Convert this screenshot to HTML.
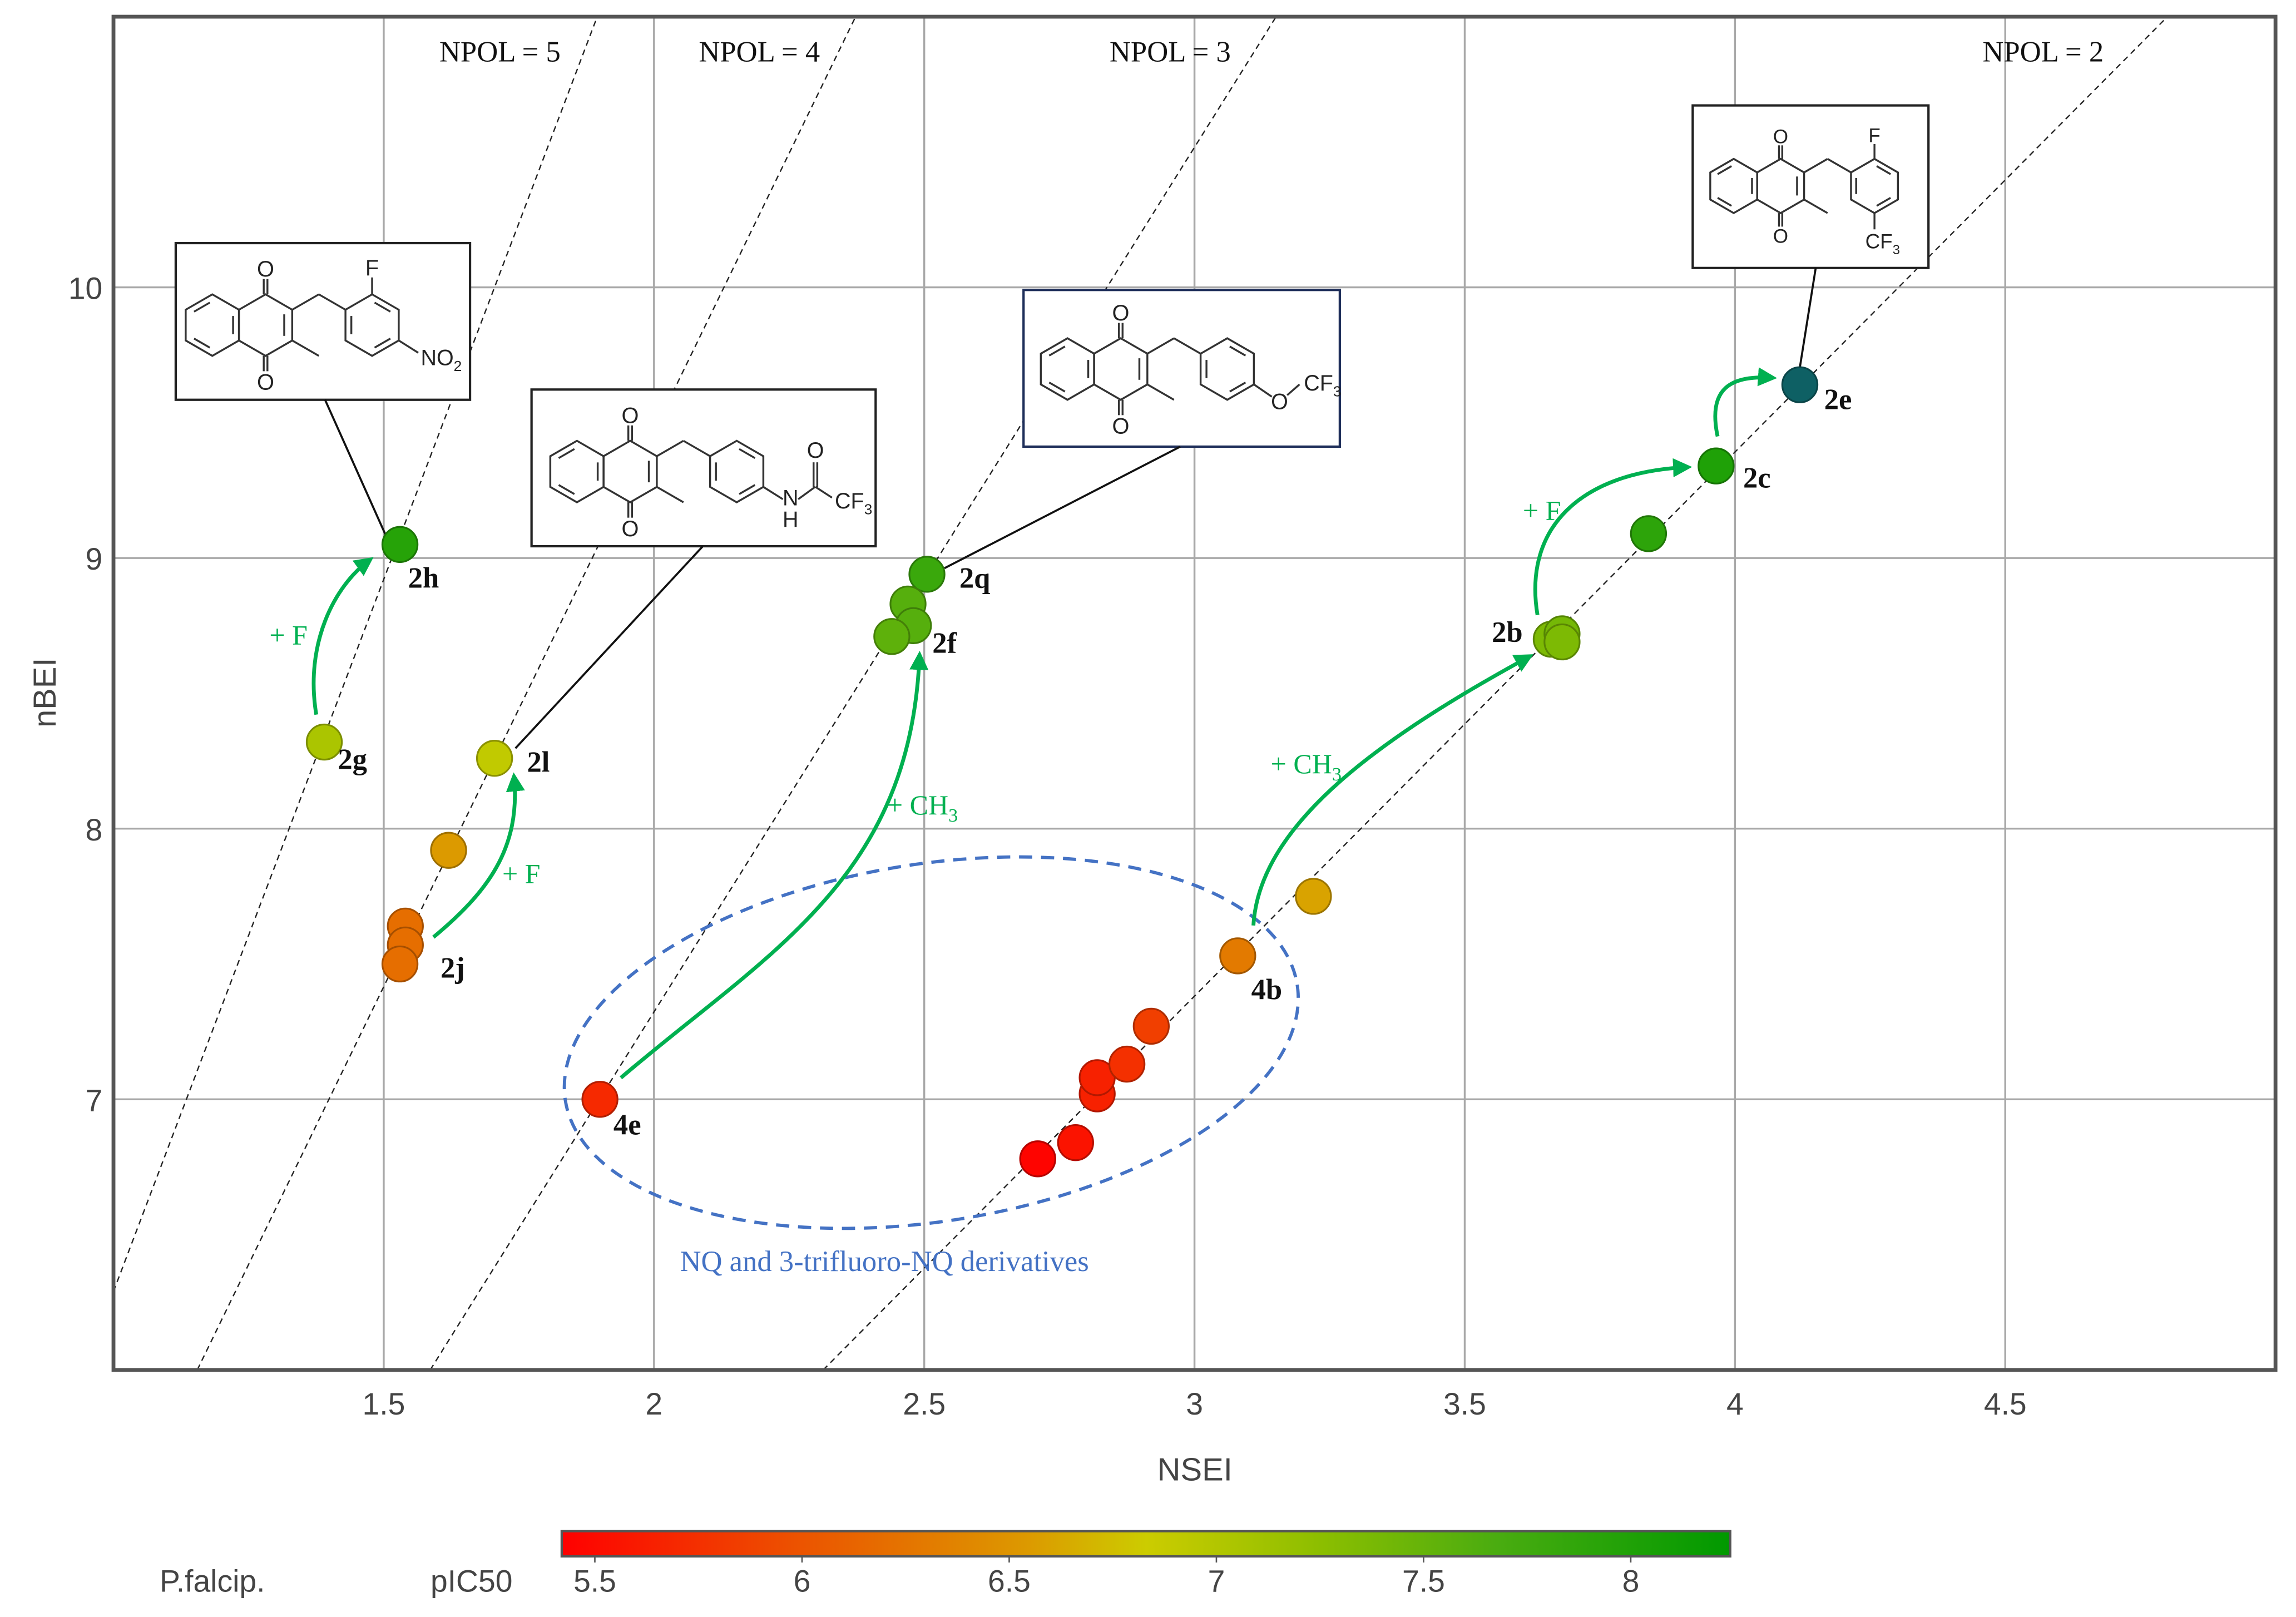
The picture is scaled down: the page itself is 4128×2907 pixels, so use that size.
<!DOCTYPE html>
<html><head><meta charset="utf-8"><style>
html,body{margin:0;padding:0;background:#fff;}
svg{display:block;}
</style></head><body>
<svg id="chart" width="4128" height="2907" viewBox="0 0 1568 1104.2" xmlns="http://www.w3.org/2000/svg">
<defs>
<linearGradient id="cgrad" x1="0" x2="1" y1="0" y2="0">
<stop offset="0" stop-color="#ff0000"/>
<stop offset="0.2" stop-color="#ec5200"/>
<stop offset="0.4" stop-color="#dc9a00"/>
<stop offset="0.5" stop-color="#cccc00"/>
<stop offset="0.65" stop-color="#8cbe00"/>
<stop offset="0.8" stop-color="#4aac10"/>
<stop offset="1" stop-color="#009900"/>
</linearGradient>
<marker id="arr" viewBox="0 0 10 10" refX="8" refY="5" markerWidth="5" markerHeight="5" orient="auto"><path d="M0,0 L10,5 L0,10 z" fill="#00b050"/></marker>
</defs>
<g id="grid"></g>
<g id="npol"></g>
<g id="annot"></g>
<g id="pts"></g>
<g id="axes"></g>
</svg>
<script>
const xTicks=[1.5,2,2.5,3,3.5,4,4.5];
const yTicks=[7,8,9,10];
const ptX=[1.53,1.39,1.705,1.62,1.54,1.54,1.53,1.90,2.505,2.47,2.48,2.44,2.71,2.78,2.82,2.82,2.875,2.92,3.08,3.22,3.66,3.68,3.68,3.84,3.965,4.12];
const ptY=[9.05,8.32,8.26,7.92,7.64,7.57,7.50,7.00,8.94,8.83,8.75,8.71,6.78,6.84,7.02,7.08,7.13,7.27,7.53,7.75,8.70,8.72,8.69,9.09,9.34,9.64];
const ptP=[7.95,7.05,6.9,6.55,6.2,6.2,6.2,5.7,7.8,7.6,7.6,7.55,5.45,5.55,5.65,5.65,5.75,5.85,6.3,6.6,7.35,7.4,7.35,7.9,8.0,8.6];
const labNames=["2h","2g","2l","2j","4e","2q","2f","4b","2b","2c","2e"];
const labX=[1.545,1.415,1.765,1.605,1.925,2.565,2.515,3.105,3.55,4.015,4.165];
const labY=[8.89,8.22,8.21,7.45,6.87,8.89,8.65,7.37,8.69,9.26,9.55];
const npolNames=["NPOL = 5","NPOL = 4","NPOL = 3","NPOL = 2"];
const npolX0=[1.0,1.155,1.586,2.313];
const npolY0=[6.29,6.0,6.0,6.0];
const npolX1=[1.895,2.373,3.151,4.80];
const npolY1=[11,11,11,11];
const npolLabX=[1.715,2.195,2.955,4.57];
const cbTicks=[5.5,6,6.5,7,7.5,8];
const cbMin=5.42, cbMax=8.24;

const L=77.5,R=1554,T=11.4,B=935.5;
const X=v=>L+(v-1)/4*(R-L);
const Y=v=>B-(v-6)/5*(B-T);
const CBL=383.6,CBR=1181.6;
const CX=v=>CBL+(v-cbMin)/(cbMax-cbMin)*(CBR-CBL);
const NS="http://www.w3.org/2000/svg";
function mk(tag,parent,attrs){const e=document.createElementNS(NS,tag);for(const k in attrs)e.setAttribute(k,attrs[k]);parent.appendChild(e);return e;}
const grid=document.getElementById('grid'),npol=document.getElementById('npol'),annot=document.getElementById('annot'),pts=document.getElementById('pts'),axes=document.getElementById('axes');

mk('rect',grid,{x:L,y:T,width:R-L,height:B-T,fill:'#fff'});
xTicks.forEach(v=>{const l=mk('line',grid,{x1:X(v),x2:X(v),y1:T,y2:B,stroke:'#a8a8a8','stroke-width':1.3});

});
yTicks.forEach(v=>{const l=mk('line',grid,{x1:L,x2:R,y1:Y(v),y2:Y(v),stroke:'#a8a8a8','stroke-width':1.3});

});

npolNames.forEach((n,i)=>{const l=mk('line',npol,{x1:X(npolX0[i]),y1:Y(npolY0[i]),x2:X(npolX1[i]),y2:Y(npolY1[i]),stroke:'#222','stroke-width':0.9,'stroke-dasharray':'4,3'});


const t=mk('text',npol,{x:X(npolLabX[i]),y:42,'text-anchor':'middle','font-family':'Liberation Serif, serif','font-size':20,fill:'#111'});t.textContent=n;

});

const el=mk('ellipse',annot,{cx:636,cy:712,rx:253,ry:122,transform:'rotate(-9 636 712)',fill:'none',stroke:'#4472c4','stroke-width':2.2,'stroke-dasharray':'9,6'});


const et=mk('text',annot,{x:604,y:868,'text-anchor':'middle','font-family':'Liberation Serif, serif','font-size':20,fill:'#4472c4'});et.textContent='NQ and 3-trifluoro-NQ derivatives';



const arrows=[["M216,488 C208,440 228,400 253,382","+ F",197,440],["M296,640 C332,610 356,580 351,530","+ F",356,603],["M424,736 C525,650 622,600 628,447","+ CH",630,556],["M856,632 C860,560 950,500 1045,448","+ CH",892,528],["M1050,420 C1040,360 1080,322 1153,319","+ F",1053,355],["M1173,298 C1166,265 1182,256 1211,258","",0,0]];
arrows.forEach(a=>{const p=mk('path',annot,{d:a[0],fill:'none',stroke:'#00b050','stroke-width':2.6,'marker-end':'url(#arr)'});


if(a[1]){const t=mk('text',annot,{x:a[2],y:a[3],'text-anchor':'middle','font-family':'Liberation Serif, serif','font-size':19,fill:'#00b050'});
t.textContent=a[1];
if(a[1]==='+ CH'){const s=mk('tspan',t,{'font-size':13,dy:5});s.textContent='3';}

}});

function hex(g,cx,cy,r,dbl){const v=[];for(let k=0;k<6;k++){const a=(-90+60*k)*Math.PI/180;v.push([cx+r*Math.cos(a),cy+r*Math.sin(a)]);}
mk('polygon',g,{points:v.map(p=>p.join(',')).join(' '),fill:'none',stroke:'#333','stroke-width':1.3});
(dbl||[]).forEach(k=>{const a=v[k],b=v[(k+1)%6];const s=0.78;const ax=cx+(a[0]-cx)*s,ay=cy+(a[1]-cy)*s,bx=cx+(b[0]-cx)*s,by=cy+(b[1]-cy)*s;
mk('line',g,{x1:ax+(bx-ax)*0.12,y1:ay+(by-ay)*0.12,x2:bx-(bx-ax)*0.12,y2:by-(by-ay)*0.12,stroke:'#333','stroke-width':1.3});});return v;}
function txt(g,x,y,s,fs){const t=mk('text',g,{x:x,y:y,'text-anchor':'middle','font-family':'Liberation Sans, sans-serif','font-size':fs,fill:'#222'});t.innerHTML=s;return t;}
function mol(name,bx,by,bw,bh,ox,oy,r,sub,stroke){
const g=mk('g',annot,{});


mk('rect',g,{x:bx,y:by,width:bw,height:bh,fill:'#fff',stroke:stroke||'#222','stroke-width':1.6});
const s3=Math.sqrt(3);const P=(u,v)=>[ox+u*r,oy+v*r];
hex(g,ox,oy,r,[1,3,5]);
hex(g,ox+s3*r,oy,r,[]);
const ln=(a,b)=>mk('line',g,{x1:a[0],y1:a[1],x2:b[0],y2:b[1],stroke:'#333','stroke-width':1.3});
ln(P(s3+0.866*0.7,-0.35),P(s3+0.866*0.7,0.35));
ln(P(s3-0.06,-1),P(s3-0.06,-1.5));ln(P(s3+0.06,-1),P(s3+0.06,-1.5));
ln(P(s3-0.06,1),P(s3-0.06,1.5));ln(P(s3+0.06,1),P(s3+0.06,1.5));
txt(g,P(s3,0)[0],P(0,-1.58)[1],'O',r*0.72);
txt(g,P(s3,0)[0],P(0,2.1)[1],'O',r*0.72);
ln(P(1.5*s3,0.5),P(2*s3,1.0));
ln(P(1.5*s3,-0.5),P(2*s3,-1.0));ln(P(2*s3,-1.0),P(2.5*s3,-0.5));
const c=3*s3;hex(g,ox+c*r,oy,r,[0,2,4]);
if(sub.F){ln(P(c,-1),P(c,-1.55));txt(g,P(c,0)[0],P(0,-1.62)[1],'F',r*0.72);}
sub.draw(g,P,ln,c,r);
return g;}
mol('structure-2h',120,166,201,107,145,222,21,{F:true,draw:(g,P,ln,c,r)=>{ln(P(c+0.866,0.5),P(c+1.5,0.9));txt(g,P(c+2.25,0)[0],P(0,1.3)[1],'NO<tspan font-size="10" dy="4">2</tspan>',15);}});
mol('structure-2l',363,266,235,107,394,322,21,{F:false,draw:(g,P,ln,c,r)=>{ln(P(c+0.866,0.5),P(c+1.5,0.9));txt(g,P(c+1.75,0)[0],P(0,1.1)[1],'N',15);txt(g,P(c+1.75,0)[0],P(0,1.8)[1],'H',15);ln(P(c+2.0,0.9),P(c+2.55,0.5));ln(P(c+2.5,0.5),P(c+2.5,-0.3));ln(P(c+2.62,0.5),P(c+2.62,-0.3));txt(g,P(c+2.56,0)[0],P(0,-0.45)[1],'O',15);ln(P(c+2.56,0.5),P(c+3.1,0.85));txt(g,P(c+3.8,0)[0],P(0,1.2)[1],'CF<tspan font-size="10" dy="4">3</tspan>',15);}});
mol('structure-2q',699,198,216,107,729,252,21,{F:false,draw:(g,P,ln,c,r)=>{ln(P(c+0.866,0.5),P(c+1.45,0.9));txt(g,P(c+1.7,0)[0],P(0,1.3)[1],'O',15);ln(P(c+1.95,0.85),P(c+2.35,0.5));txt(g,P(c+3.1,0)[0],P(0,0.7)[1],'CF<tspan font-size="10" dy="4">3</tspan>',15);}},'#1f2f5a');
mol('structure-2e',1156,72,161,111,1184,127,18.5,{F:true,draw:(g,P,ln,c,r)=>{ln(P(c,1),P(c,1.6));txt(g,P(c+0.3,0)[0],P(0,2.3)[1],'CF<tspan font-size="9" dy="4">3</tspan>',14);}});
[[222,273,265,369],[480,373,352,511],[806,305,645,388],[1240,183,1229,252]].forEach(c=>{const l=mk('line',annot,{x1:c[0],y1:c[1],x2:c[2],y2:c[3],stroke:'#111','stroke-width':1.4});

});

const stops=[[0,[255,0,0]],[0.2,[236,82,0]],[0.4,[220,154,0]],[0.5,[204,204,0]],[0.65,[140,190,0]],[0.8,[74,172,16]],[1,[0,153,0]]];
function col(p){if(p>cbMax)return [14,96,100];let f=Math.max(0,(p-cbMin)/(cbMax-cbMin));for(let i=1;i<stops.length;i++){if(f<=stops[i][0]){const a=stops[i-1],b=stops[i],t=(f-a[0])/(b[0]-a[0]);return a[1].map((c,k)=>Math.round(c+(b[1][k]-c)*t));}}return stops[6][1];}
ptX.forEach((v,i)=>{const c=col(ptP[i]);const d=c.map(x=>Math.round(x*0.72));
const e=mk('circle',pts,{cx:X(v),cy:Y(ptY[i]),r:12,fill:`rgb(${c})`,stroke:`rgb(${d})`,'stroke-width':1.2});

});
labNames.forEach((n,i)=>{const t=mk('text',pts,{x:X(labX[i]),y:Y(labY[i]),'font-family':'Liberation Serif, serif','font-weight':'bold','font-size':20,fill:'#111'});t.textContent=n;

});

mk('rect',axes,{x:L,y:T,width:R-L,height:B-T,fill:'none',stroke:'#555','stroke-width':2.6});
xTicks.forEach(v=>{const t=mk('text',axes,{x:X(v),y:966,'text-anchor':'middle','font-family':'Liberation Sans, sans-serif','font-size':21,fill:'#444'});t.textContent=v;

});
yTicks.forEach(v=>{const t=mk('text',axes,{x:70,y:Y(v)+8,'text-anchor':'end','font-family':'Liberation Sans, sans-serif','font-size':21,fill:'#444'});t.textContent=v;

});
const xt=mk('text',axes,{x:816,y:1011,'text-anchor':'middle','font-family':'Liberation Sans, sans-serif','font-size':22,fill:'#444'});xt.textContent='NSEI';


const yt=mk('text',axes,{x:0,y:0,transform:'translate(38,473) rotate(-90)','text-anchor':'middle','font-family':'Liberation Sans, sans-serif','font-size':22,fill:'#444'});yt.textContent='nBEI';


const cb=mk('rect',axes,{x:CBL,y:1045.6,width:CBR-CBL,height:17.2,fill:'url(#cgrad)',stroke:'#555','stroke-width':1.6});


cbTicks.forEach(v=>{mk('line',axes,{x1:CX(v),x2:CX(v),y1:1062.7,y2:1067,stroke:'#555','stroke-width':1});
const t=mk('text',axes,{x:CX(v),y:1087,'text-anchor':'middle','font-family':'Liberation Sans, sans-serif','font-size':21,fill:'#444'});t.textContent=v;

});
const c1=mk('text',axes,{x:145,y:1087,'text-anchor':'middle','font-family':'Liberation Sans, sans-serif','font-size':21,fill:'#444'});c1.textContent='P.falcip.';


const c2=mk('text',axes,{x:322,y:1087,'text-anchor':'middle','font-family':'Liberation Sans, sans-serif','font-size':21,fill:'#444'});c2.textContent='pIC50';


</script>
</body></html>
